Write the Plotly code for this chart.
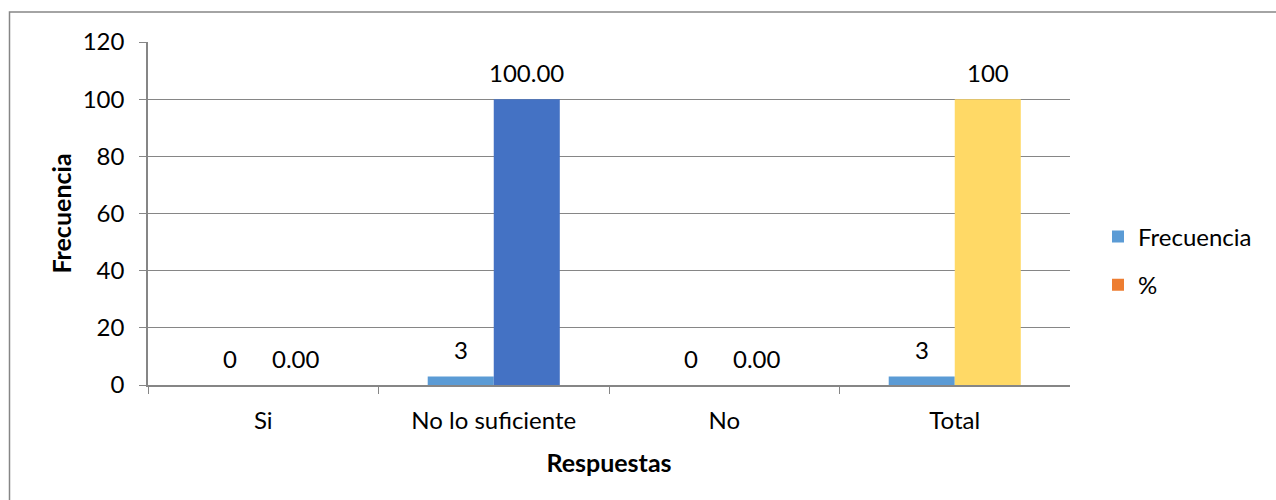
import plotly.graph_objects as go

# Survey responses
categorias = ["Si", "No lo suficiente", "No", "Total"]
frecuencia = [0, 3, 0, 3]
porcentaje = [0, 100, 0, 100]
etiquetas_frec = ["0", "3", "0", "3"]
etiquetas_pct = ["0.00", "100.00", "0.00", "100"]

W, H = 1276, 500
FONT = "Lato"
FS = 24
GRID = "#868686"

# colours of the % bars (first one drives the legend swatch)
colores_pct = ["#ED7D31", "#4472C4", "#ED7D31", "#FFD966"]

fig = go.Figure()
fig.add_trace(go.Bar(
    x=categorias, y=frecuencia, name="Frecuencia",
    marker=dict(color="#5B9BD5", line=dict(width=0)),
    legendgroup="a",
))
fig.add_trace(go.Bar(
    x=categorias, y=porcentaje, name="%",
    marker=dict(color=colores_pct, line=dict(width=0)),
    legendgroup="b",
))

# value labels above each bar
for cat, v, t in zip(categorias, frecuencia, etiquetas_frec):
    fig.add_annotation(x=cat, y=v, text=t, showarrow=False, xshift=-33, yshift=27,
                       yanchor="middle", font=dict(family=FONT, size=FS, color="#000"))
for cat, v, t in zip(categorias, porcentaje, etiquetas_pct):
    fig.add_annotation(x=cat, y=v, text=t, showarrow=False, xshift=33, yshift=27,
                       yanchor="middle", font=dict(family=FONT, size=FS, color="#000"))

# chart-area border
fig.add_shape(type="rect", xref="paper", yref="paper",
              x0=9.5 / W, x1=1.05, y0=-0.05, y1=(H - 12) / H,
              line=dict(color=GRID, width=1.5), fillcolor="rgba(0,0,0,0)")

fig.update_layout(
    width=W, height=H,
    margin=dict(l=0, r=0, t=0, b=0, autoexpand=False),
    paper_bgcolor="white", plot_bgcolor="white",
    barmode="group", bargap=0.427, bargroupgap=0,
    font=dict(family=FONT, size=FS, color="#000"),
    xaxis=dict(
        domain=[148 / W, 1070 / W], automargin=False,
        showline=True, linecolor=GRID, linewidth=2,
        ticks="outside", tickson="boundaries", ticklen=7, tickcolor=GRID,
        ticklabelstandoff=13,
        showgrid=False,
        title=dict(text="<b>Respuestas</b>", font=dict(family=FONT, size=FS + 1), standoff=22),
        tickfont=dict(family=FONT, size=FS),
    ),
    yaxis=dict(
        domain=[(H - 385) / H, (H - 42) / H], automargin=False,
        range=[0, 120], dtick=20,
        showline=True, linecolor=GRID, linewidth=1.5,
        ticks="outside", ticklen=7, tickcolor=GRID,
        ticklabelstandoff=10,
        showgrid=True, gridcolor=GRID, gridwidth=1,
        zeroline=False,
        title=dict(text="<b>Frecuencia</b>", font=dict(family=FONT, size=FS + 1), standoff=4),
        tickfont=dict(family=FONT, size=FS),
    ),
    legend=dict(
        x=1098 / W, xanchor="left", y=(H - 261) / H, yanchor="middle",
        font=dict(family=FONT, size=FS),
        traceorder="grouped", tracegroupgap=14,
        bgcolor="rgba(0,0,0,0)",
    ),
)

fig.write_html("out.html")
